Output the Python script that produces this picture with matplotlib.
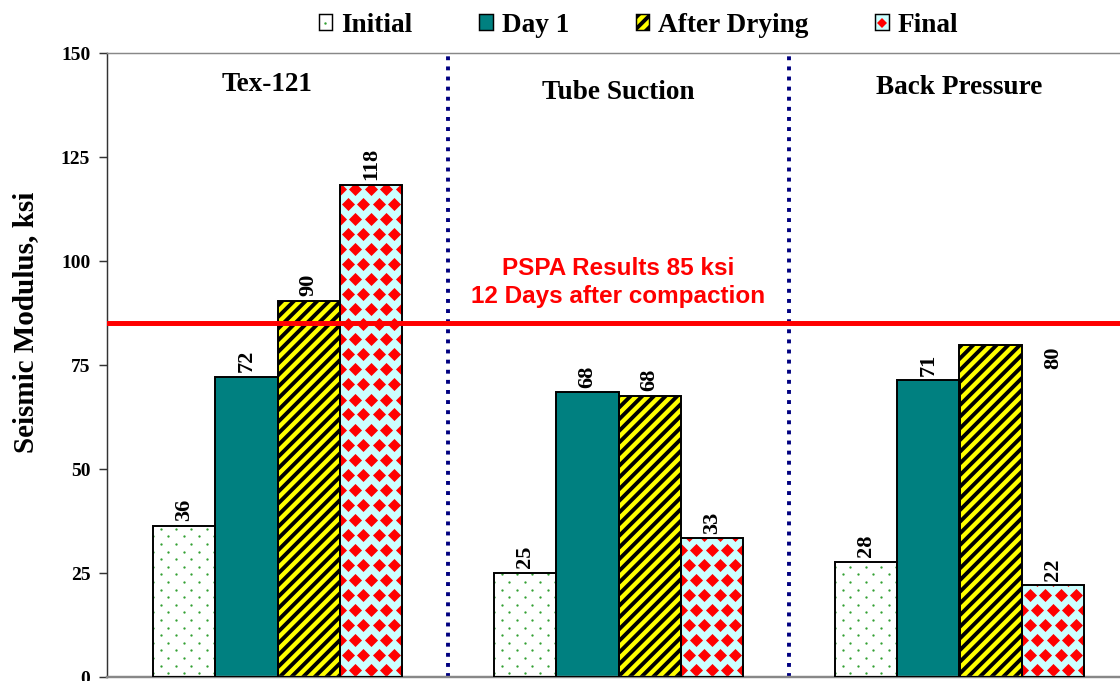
import numpy as np
import matplotlib
matplotlib.use("Agg")
import matplotlib.pyplot as plt
from matplotlib.patches import Patch
from matplotlib.lines import Line2D

groups = ["Tex-121", "Tube Suction", "Back Pressure"]
series = ["Initial", "Day 1", "After Drying", "Final"]
initial = [36.3, 25.1, 27.6]
day1 = [72.2, 68.4, 71.3]
after_drying = [90.4, 67.6, 79.7]
final = [118.2, 33.3, 22.0]
pspa = 85
yticks = [0, 25, 50, 75, 100, 125, 150]

DPI = 70
plt.rcParams["font.family"] = ["Liberation Serif", "DejaVu Serif"]
plt.rcParams["font.weight"] = "bold"
plt.rcParams["hatch.linewidth"] = 4.0

fig = plt.figure(figsize=(1120 / DPI, 681 / DPI), dpi=DPI)
ax = fig.add_axes([107 / 1120, 4 / 681, 1023 / 1120, 624 / 681])
ax.set_xlim(-0.5, 2.5)
ax.set_ylim(0, 150)

x = np.arange(len(groups))
w = 0.1827
values = [initial, day1, after_drying, final]
faces = ["white", "#008080", "#FFFF00", "#CCFFFF"]
hatches = [None, None, "//", None]


def px_to_data(dx, dy):
    inv = ax.transData.inverted()
    return inv.transform((dx, dy)) - inv.transform((0, 0))


def texture(bars, step, row, marker, size, color):
    # staggered grid of markers, clipped to each bar
    sx, sy = px_to_data(step, row)
    for b in bars:
        x0, bw, h = b.get_x(), b.get_width(), b.get_height()
        pts = []
        for i, yy in enumerate(np.arange(sy / 2, h + sy, sy)):
            for xx in np.arange(x0 + (i % 2) * sx / 2, x0 + bw + sx, sx):
                pts.append((xx, yy))
        pts = np.array(pts)
        sc = ax.scatter(pts[:, 0], pts[:, 1], marker=marker, s=size ** 2,
                        c=color, linewidths=0, zorder=2.5)
        sc.set_clip_path(b)


all_bars = []
for k, vals in enumerate(values):
    pos = x + (k - 1.5) * w
    bars = ax.bar(pos, vals, w, color=faces[k], edgecolor="black",
                  hatch=hatches[k], linewidth=0, zorder=2)
    all_bars.append(bars)
    ax.bar(pos, vals, w, fill=False, edgecolor="black", linewidth=2, zorder=3)

texture(all_bars[0], 15.4, 7.6, "o", 2.4, "#33a033")
texture(all_bars[3], 15.5, 15.0, "D", 9.5, "#ff0000")

for k, vals in enumerate(values):
    for i, v in enumerate(vals):
        xi = x[i] + (k - 1.5) * w
        if groups[i] == "Back Pressure" and series[k] == "After Drying":
            ax.annotate(f"{v:.0f}", (xi + w, v), xytext=(0, -1),
                        textcoords="offset points", rotation=90,
                        ha="center", va="top", fontsize=23)
        else:
            ax.annotate(f"{v:.0f}", (xi, v), xytext=(0, 5),
                        textcoords="offset points", rotation=90,
                        ha="center", va="bottom", fontsize=23)

for xv in [0.5, 1.5]:
    ax.axvline(xv, color="#000080", lw=4, linestyle=(0, (1, 1.6)),
               dash_capstyle="butt", zorder=1)

ax.axhline(pspa, color="red", lw=5.1, zorder=4)
ax.text(1.0, 94.8, f"PSPA Results {pspa} ksi\n12 Days after compaction",
        color="red", fontsize=25, fontweight="bold", family="Liberation Sans",
        ha="center", va="center", linespacing=1.3, zorder=5)

title_pos = [(-0.031, 140.8), (1.0, 139.0), (2.0, 140.1)]
for name, (tx, ty) in zip(groups, title_pos):
    ax.text(tx, ty, name, ha="center", va="baseline", fontsize=28)

ax.set_xticks([])
ax.set_yticks(yticks)
ax.tick_params(axis="y", direction="out", length=8.2, width=1.5,
               color="#333333", pad=9, labelsize=20)
ax.spines["right"].set_visible(False)
ax.spines["top"].set_color("#888888")
ax.spines["top"].set_linewidth(1.5)
ax.spines["bottom"].set_color("#888888")
ax.spines["bottom"].set_linewidth(2.5)
ax.spines["left"].set_color("#333333")
ax.spines["left"].set_linewidth(1.5)

fig.text(26 / 1120, 1 - 322 / 681, "Seismic Modulus, ksi", rotation=90,
         ha="center", va="center", fontsize=30)

outline = Patch(fill=False, edgecolor="black", lw=1.5)
handles = [
    (Patch(facecolor="white", lw=0),
     Line2D([], [], ls="", marker="o", ms=2.5, color="#33a033", mew=0),
     outline),
    Patch(facecolor="#008080", edgecolor="black", lw=1.5),
    Patch(facecolor="#FFFF00", edgecolor="black", hatch="//", lw=1.5),
    (Patch(facecolor="#CCFFFF", lw=0),
     Line2D([], [], ls="", marker="D", ms=8, color="red", mew=0),
     outline),
]
fig.legend(handles, series, loc="center", bbox_to_anchor=(638.5 / 1120, 1 - 25 / 681),
           ncol=4, frameon=False, fontsize=28, handlelength=0.5,
           handleheight=0.5, handletextpad=0.33, columnspacing=2.45)

fig.savefig("out.png", dpi=DPI)
